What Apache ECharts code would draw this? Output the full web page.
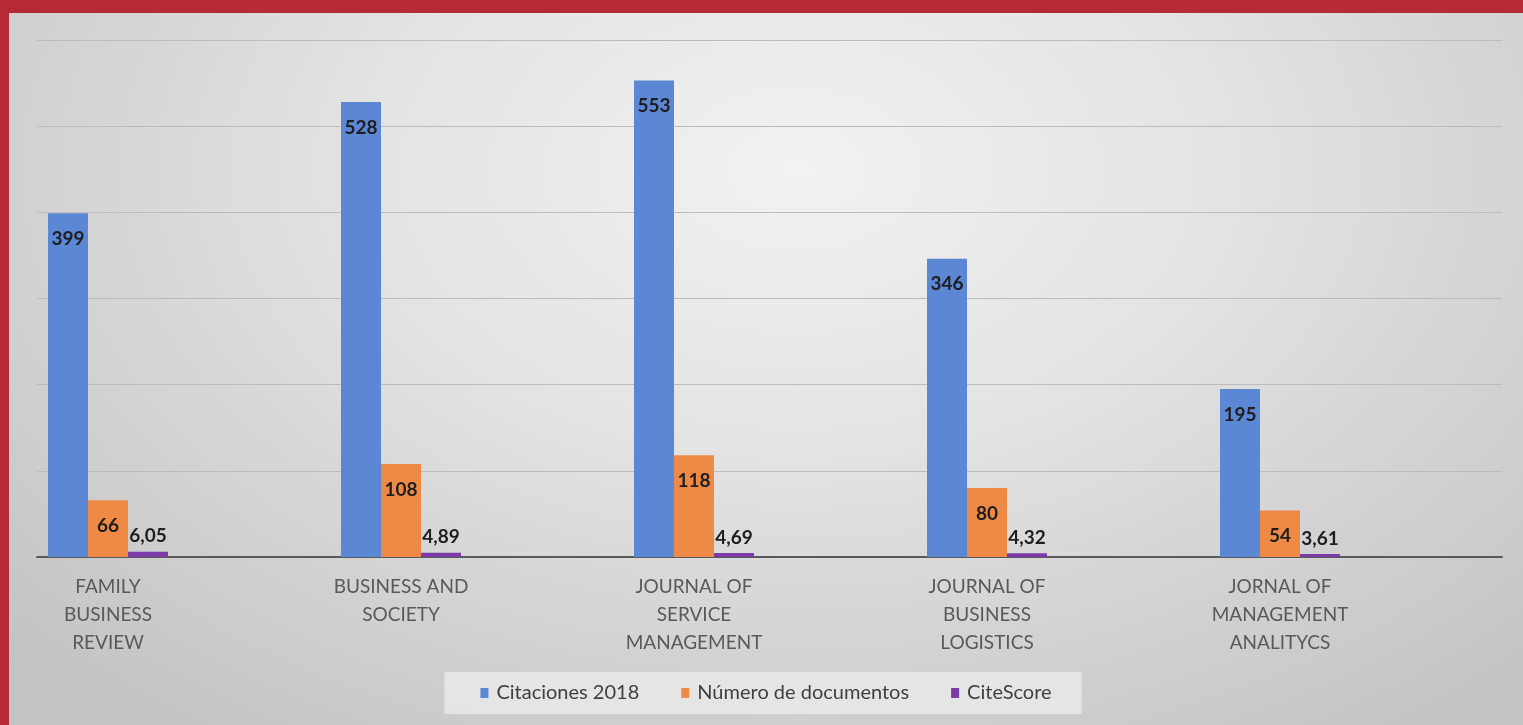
<!DOCTYPE html>
<html>
<head>
<meta charset="utf-8">
<script src="https://cdn.jsdelivr.net/npm/echarts@6/dist/echarts.min.js"></script>
<style>
  html, body { margin: 0; padding: 0; width: 1523px; height: 725px; overflow: hidden; background: #b52a35; }
  #frame { position: absolute; left: 9px; top: 13px; width: 1514px; height: 712px;
    background: radial-gradient(ellipse 72% 100% at 52% 22%, #f2f2f2 0%, #e3e3e3 40%, #d2d2d2 70%, #c3c3c3 100%); }
  #chart { width: 1514px; height: 712px; }
</style>
</head>
<body>
<div id="frame"><div id="chart"></div></div>
<script>
const categories = [
  'FAMILY\nBUSINESS\nREVIEW',
  'BUSINESS AND\nSOCIETY',
  'JOURNAL OF\nSERVICE\nMANAGEMENT',
  'JOURNAL OF\nBUSINESS\nLOGISTICS',
  'JORNAL OF\nMANAGEMENT\nANALITYCS'
];
const citaciones2018 = [399, 528, 553, 346, 195];
const numeroDocumentos = [66, 108, 118, 80, 54];
const citeScore = [6.05, 4.89, 4.69, 4.32, 3.61];
const yTicks = { min: 0, max: 600, interval: 100 };

const chart = echarts.init(document.getElementById('chart'));
const labelFont = { fontFamily: 'Lato', fontWeight: 'bold', fontSize: 19, color: '#1e1e1e' };
const comma = p => String(p.value).replace('.', ',');

chart.setOption({
  animation: false,
  textStyle: { fontFamily: 'Lato' },
  grid: [
    { left: 28, right: 21, top: 27, bottom: 168 },
    { left: 99, right: 243, top: 27, bottom: 168 }
  ],
  xAxis: [
    { gridIndex: 0, type: 'category', data: [''], axisLine: { lineStyle: { color: '#595959', width: 2 } },
      axisTick: { show: false }, axisLabel: { show: false } },
    { gridIndex: 1, type: 'category', boundaryGap: false, data: categories, axisLine: { show: false }, axisTick: { show: false },
      axisLabel: { interval: 0, margin: 16, fontFamily: 'Lato', fontSize: 19, lineHeight: 28, color: '#595959' } }
  ],
  yAxis: [
    { gridIndex: 0, type: 'value', min: yTicks.min, max: yTicks.max, interval: yTicks.interval,
      axisLine: { show: false }, axisTick: { show: false }, axisLabel: { show: false },
      splitLine: { lineStyle: { color: '#bcbcbc', width: 1 } } },
    { gridIndex: 1, type: 'value', min: yTicks.min, max: yTicks.max, interval: yTicks.interval, show: false,
      splitLine: { show: false } }
  ],
  legend: {
    bottom: 11, left: 'center',
    data: ['Citaciones 2018', 'Número de documentos', 'CiteScore'],
    backgroundColor: 'rgba(236,236,236,0.75)',
    padding: [11, 30, 11, 36],
    itemGap: 42, itemWidth: 8, itemHeight: 10,
    textStyle: { fontFamily: 'Lato', fontSize: 20, color: '#404040', padding: [0, 0, 0, 3] },
    icon: 'rect'
  },
  series: [
    { name: 'Citaciones 2018', type: 'bar', xAxisIndex: 1, yAxisIndex: 1, data: citaciones2018,
      barWidth: 40, barGap: '0%', itemStyle: { color: '#5b87d4' },
      label: Object.assign({ show: true, position: 'insideTop', distance: 16 }, labelFont) },
    { name: 'Número de documentos', type: 'bar', xAxisIndex: 1, yAxisIndex: 1, data: numeroDocumentos,
      barWidth: 40, barGap: '0%', itemStyle: { color: '#ee8a45' },
      label: Object.assign({ show: true, position: 'insideTop', distance: 16 }, labelFont) },
    { name: 'CiteScore', type: 'bar', xAxisIndex: 1, yAxisIndex: 1, data: citeScore,
      barWidth: 40, barGap: '0%', itemStyle: { color: '#7a3aa8' },
      label: Object.assign({ show: true, position: 'top', distance: 6, formatter: comma }, labelFont) }
  ]
});
</script>
</body>
</html>
